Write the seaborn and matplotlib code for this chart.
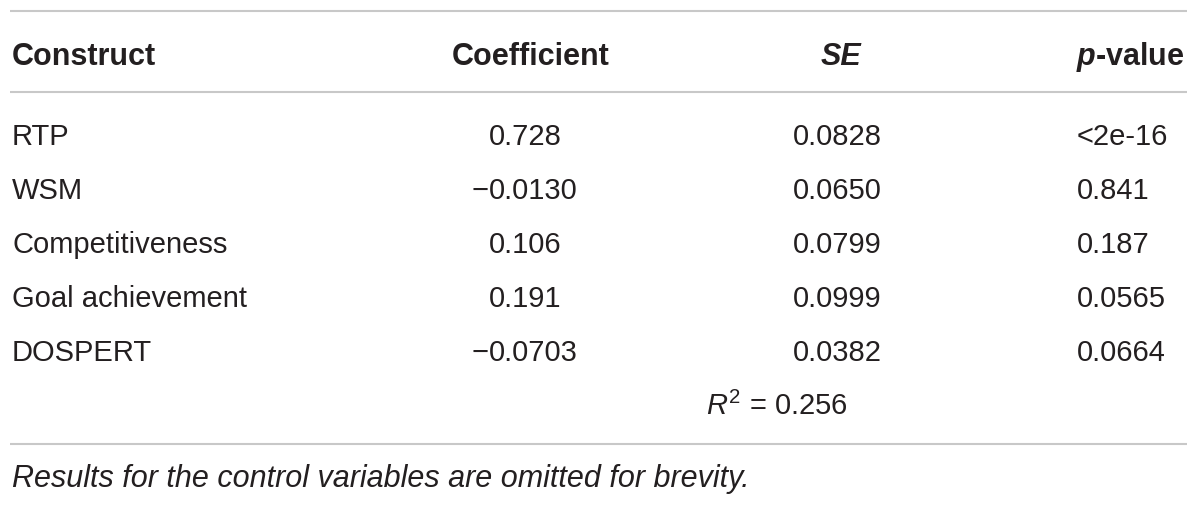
import matplotlib
matplotlib.use('Agg')
import matplotlib.pyplot as plt
import seaborn as sns

# Table contents
constructs = ['RTP', 'WSM', 'Competitiveness', 'Goal achievement', 'DOSPERT']
coefficients = ['0.728', '\u22120.0130', '0.106', '0.191', '\u22120.0703']
std_errors = ['0.0828', '0.0650', '0.0799', '0.0999', '0.0382']
p_values = ['<2e-16', '0.841', '0.187', '0.0565', '0.0664']
r_squared = '0.256'
note = 'Results for the control variables are omitted for brevity.'

sns.set_theme(style='white')
font = 'Liberation Sans'
plt.rcParams['font.family'] = [font, 'DejaVu Sans']
plt.rcParams['mathtext.fontset'] = 'custom'
plt.rcParams['mathtext.rm'] = font
plt.rcParams['mathtext.it'] = font + ':italic'
plt.rcParams['mathtext.bf'] = font + ':bold'
plt.rcParams['mathtext.bfit'] = font + ':italic:bold'

text_color = '#231f20'
line_color = '#c8c8c8'
fs_body = 21
fs_head = 22
fs_note = 22

fig = plt.figure(figsize=(12, 5.06), dpi=100)
ax = fig.add_axes([0, 0, 1, 1])
ax.set_xlim(0, 1200)
ax.set_ylim(506, 0)
ax.axis('off')

# column anchors (pixels)
x_construct = 12
x_coef = 489
x_se = 793
x_p = 1077

# rules
for y in [12, 93, 445]:
    ax.plot([10, 1187], [y, y], color=line_color, lw=1.5, solid_capstyle='butt')

# header
hy = 65
hkw = dict(fontsize=fs_head, fontweight='bold', color=text_color, va='baseline')
ax.text(x_construct, hy, 'Construct', **hkw)
ax.text(531, hy, 'Coefficient', ha='center', **hkw)
ax.text(841, hy, 'SE', fontstyle='italic', ha='center', **hkw)
ax.text(1184, hy, r'$\mathbfit{p}$-value', ha='right', **hkw)

# body rows
row0 = 145
row_h = 54
kw = dict(fontsize=fs_body, color=text_color, va='baseline')
for i, (name, c, se, p) in enumerate(zip(constructs, coefficients, std_errors, p_values)):
    y = row0 + i * row_h
    ax.text(x_construct, y, name, **kw)
    if c.startswith('\u2212'):
        ax.text(x_coef, y, '\u2212', ha='right', **kw)
        ax.text(x_coef, y, c[1:], **kw)
    else:
        ax.text(x_coef, y, c, **kw)
    ax.text(x_se, y, se, **kw)
    ax.text(x_p, y, p, **kw)

y_r2 = row0 + len(constructs) * row_h
ax.text(706, y_r2, r'$R^2$ = ' + r_squared, **kw)

# footnote
ax.text(x_construct, 487, note, fontsize=fs_note, fontstyle='italic', color=text_color, va='baseline')

fig.savefig('out.png', dpi=100, facecolor='white')
